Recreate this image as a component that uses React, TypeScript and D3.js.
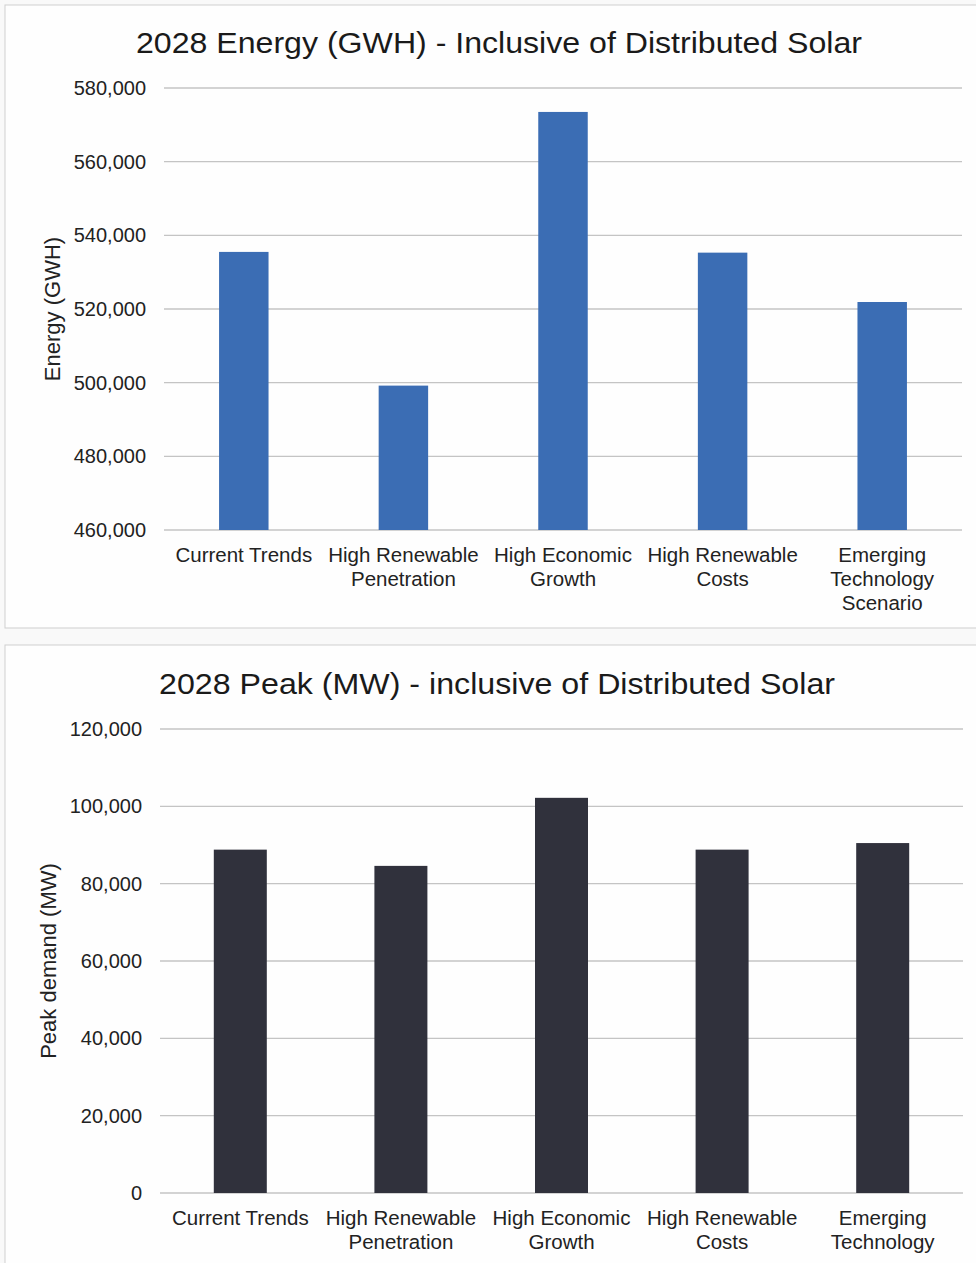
import React from "react";
import * as d3 from "d3";

const categories: string[][] = [
  ["Current Trends"],
  ["High Renewable", "Penetration"],
  ["High Economic", "Growth"],
  ["High Renewable", "Costs"],
  ["Emerging", "Technology", "Scenario"],
];
const categoriesPeak: string[][] = [
  ["Current Trends"],
  ["High Renewable", "Penetration"],
  ["High Economic", "Growth"],
  ["High Renewable", "Costs"],
  ["Emerging", "Technology"],
];
const energyValues = [535500, 499200, 573500, 535300, 521900];
const peakValues = [88800, 84600, 102200, 88800, 90500];
const energyTicks = [460000, 480000, 500000, 520000, 540000, 560000, 580000];
const peakTicks = [0, 20000, 40000, 60000, 80000, 100000, 120000];

const FONT = "'Liberation Sans', Arial, sans-serif";
const fmt = d3.format(",");

type ChartProps = {
  top: number;
  boxH: number;
  title: string;
  titleX: number;
  titleY: number;
  titleLen: number;
  yTitle: string;
  yTitleX: number;
  values: number[];
  cats: string[][];
  ticks: number[];
  domain: [number, number];
  plotTop: number;
  plotBottom: number;
  plotLeft: number;
  plotRight: number;
  color: string;
  padding: number;
};

function Chart(p: ChartProps) {
  const x = d3
    .scaleBand<number>()
    .domain(p.values.map((_, i) => i))
    .range([p.plotLeft, p.plotRight])
    .paddingInner(p.padding)
    .paddingOuter(p.padding / 2);
  const y = d3.scaleLinear().domain(p.domain).range([p.plotBottom, p.plotTop]);
  const midY = (p.plotTop + p.plotBottom) / 2;
  return (
    <g>
      <rect x={5} y={p.top} width={990} height={p.boxH} fill="#fefefe" stroke="#cfcfcf" strokeWidth={1} />
      <text
        x={p.titleX}
        y={p.titleY}
        textAnchor="middle"
        fontSize={30}
        fill="#1a1a1a"
        fontFamily={FONT}
        textLength={p.titleLen}
        lengthAdjust="spacingAndGlyphs"
      >
        {p.title}
      </text>
      {p.ticks.map((t) => (
        <g key={t}>
          <line x1={p.plotLeft} x2={p.plotRight} y1={y(t)} y2={y(t)} stroke="#c4c4c4" strokeWidth={1.3} />
          <text x={p.plotLeft - 18} y={y(t)} dy="0.35em" textAnchor="end" fontSize={20} fill="#222" fontFamily={FONT}>
            {fmt(t)}
          </text>
        </g>
      ))}
      {p.values.map((v, i) => (
        <rect key={i} x={x(i)} y={y(v)} width={x.bandwidth()} height={y(p.domain[0]) - y(v)} fill={p.color} />
      ))}
      {p.cats.map((lines, i) => (
        <text key={i} textAnchor="middle" fontSize={20.5} fill="#222" fontFamily={FONT}>
          {lines.map((l, j) => (
            <tspan key={j} x={(x(i) as number) + x.bandwidth() / 2} y={p.plotBottom + 32 + j * 24}>
              {l}
            </tspan>
          ))}
        </text>
      ))}
      <text
        transform={`translate(${p.yTitleX},${midY}) rotate(-90)`}
        textAnchor="middle"
        fontSize={22}
        fill="#222"
        fontFamily={FONT}
      >
        {p.yTitle}
      </text>
    </g>
  );
}

export default function App() {
  return (
    <svg width={976} height={1263} style={{ position: "absolute", left: 0, top: 0, background: "#f9f9f9" }}>
      <Chart
        top={5}
        boxH={623}
        title="2028 Energy (GWH) - Inclusive of Distributed Solar"
        titleX={499}
        titleY={53}
        titleLen={726}
        yTitle="Energy (GWH)"
        yTitleX={60}
        values={energyValues}
        cats={categories}
        ticks={energyTicks}
        domain={[460000, 580000]}
        plotTop={88}
        plotBottom={530}
        plotLeft={164}
        plotRight={962}
        color="#3b6db4"
        padding={0.69}
      />
      <Chart
        top={645}
        boxH={640}
        title="2028 Peak (MW) - inclusive of Distributed Solar"
        titleX={497}
        titleY={694}
        titleLen={676}
        yTitle="Peak demand (MW)"
        yTitleX={56}
        values={peakValues}
        cats={categoriesPeak}
        ticks={peakTicks}
        domain={[0, 120000]}
        plotTop={729}
        plotBottom={1193}
        plotLeft={160}
        plotRight={963}
        color="#30313c"
        padding={0.67}
      />
    </svg>
  );
}
